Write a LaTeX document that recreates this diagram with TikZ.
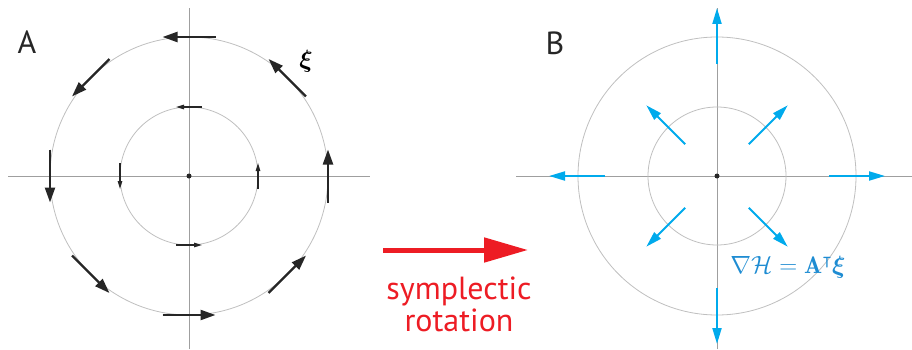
\documentclass[tikz,border=0pt]{standalone}
\usepackage{amsmath,amssymb,bm}
\usepackage{fontspec}
\setsansfont{PT Sans}
\usetikzlibrary{arrows.meta,calc}
\definecolor{vecblue}{RGB}{0,170,236}
\definecolor{labelblue}{RGB}{30,140,210}
\definecolor{rotred}{RGB}{237,28,36}

\begin{document}
\begin{tikzpicture}[x=1pt, y=1pt,
    axis/.style={draw=gray!75, line width=0.8pt},
    orbit/.style={draw=gray!50, line width=0.8pt},
    flow/.style={-{Triangle[length=15pt,width=10pt]}, line width=2.3pt, draw=black!85, fill=black!85},
    smallflow/.style={-{Triangle[length=8pt,width=4.5pt]}, line width=1.2pt, draw=black!85},
    grad/.style={-{Triangle[length=16pt,width=9pt]}, line width=2pt, draw=vecblue},
    panel/.style={font=\sffamily\fontsize{32}{36}\selectfont, text=black!85},
    turn/.style={-{Triangle[length=44pt,width=24pt]}, line width=5pt, draw=rotred}
]
\useasboundingbox (0,0) rectangle (912,349);

% Centres
\coordinate (cA) at (189,173);
\coordinate (cB) at (717,173);

% Axes
\draw[axis] ($(cA)+(-181,0)$) -- ($(cA)+(181,0)$);
\draw[axis] ($(cA)+(0,-173)$) -- ($(cA)+(0,168)$);
\draw[axis] ($(cB)+(-201,0)$) -- ($(cB)+(195,0)$);
\draw[axis] ($(cB)+(0,-173)$) -- ($(cB)+(0,168)$);

% Orbits
\draw[orbit] (cA) circle (139);
\draw[orbit] (cA) circle (69);
\draw[orbit] (cB) circle (139);
\draw[orbit] (cB) circle (69);
\fill[black!85] (cA) circle (2.5);
\fill[black!85] (cB) circle (2.5);

% Panel A: flow vectors
\foreach \a in {0,45,...,315}
  \draw[flow] ($(cA)+(\a:139)+(\a+90:-26.5)$) -- ($(cA)+(\a:139)+(\a+90:26.5)$);
\foreach \a in {0,90,180,270}
  \draw[smallflow] ($(cA)+(\a:69)+(\a+90:-13)$) -- ($(cA)+(\a:69)+(\a+90:13)$);

% Panel B: gradient vectors
\foreach \a in {0,90,180,270}
  \draw[grad] ($(cB)+(\a:112)$) -- ($(cB)+(\a:168)$);
\foreach \a in {45,135,225,315}
  \draw[grad] ($(cB)+(\a:45)$) -- ($(cB)+(\a:100)$);

% Labels
\node[panel] (labelA) at (27,307) {A};
\node[panel] (labelB) at (555,306) {B};
\node[font=\fontsize{24}{28}\selectfont] (xi) at (306,288) {$\bm{\xi}$};
\node[text=labelblue, font=\fontsize{24}{28}\selectfont] (gradH) at (788,82) {$\nabla\mathcal{H}=\mathbf{A}^{\intercal}\bm{\xi}$};

% Rotation arrow
\coordinate (rotS) at (383,99);
\coordinate (rotE) at (528,99);
\draw[turn] (rotS) -- (rotE);
\node[text=rotred, font=\sffamily\fontsize{32}{32}\selectfont, align=center] (rotlabel) at (459,45) {symplectic\\rotation};

\end{tikzpicture}
\end{document}
